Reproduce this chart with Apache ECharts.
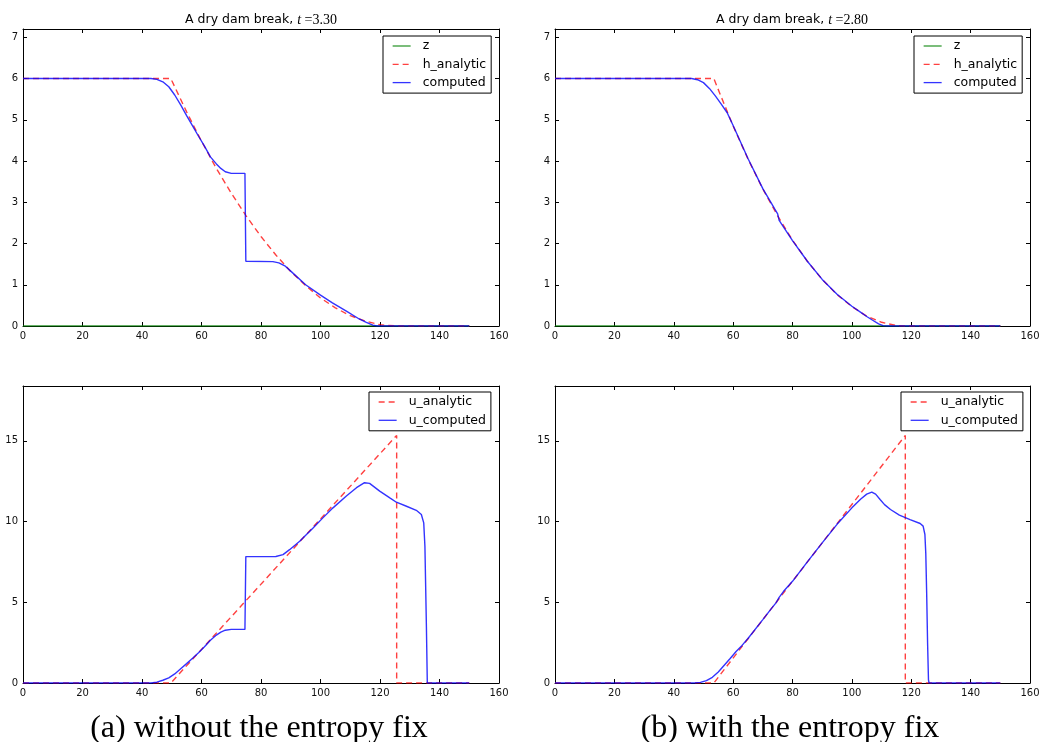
<!DOCTYPE html>
<html><head><meta charset="utf-8">
<script src="https://cdn.jsdelivr.net/npm/echarts@6/dist/echarts.min.js"></script>
<style>html,body{margin:0;padding:0;background:#fff}#c{width:1042px;height:742px}</style>
</head><body><div id="c"></div>
<script>
// ---- tick labels ----
const xTickValues = [0, 20, 40, 60, 80, 100, 120, 140, 160];
const hTickValues = [0, 1, 2, 3, 4, 5, 6, 7];
const uTickValues = [0, 5, 10, 15];
const timesLabel = ['3.30', '2.80'];
const captions = ['(a) without the entropy fix', '(b) with the entropy fix'];
const hLegendNames = ['z', 'h_analytic', 'computed'];
const uLegendNames = ['u_analytic', 'u_computed'];

// ---- (a) without entropy fix, t = 3.30 ----
const zA = [[0, 0], [150, 0]];
const hAnalyticA = [[0, 6], [49.7, 6], [50, 5.95], [55, 5.19], [60, 4.48], [65, 3.82], [70, 3.22], [75, 2.67], [80, 2.17], [85, 1.72], [90, 1.32], [95, 0.98], [100, 0.68], [105, 0.44], [110, 0.25], [115, 0.12], [120, 0.03], [125.6, 0], [150, 0]];
const hComputedA = [[0, 6], [43, 6], [45, 5.98], [47, 5.92], [49, 5.8], [51, 5.6], [53, 5.36], [55, 5.1], [57, 4.85], [59, 4.6], [61, 4.36], [63, 4.1], [65, 3.93], [66.5, 3.82], [68, 3.74], [70, 3.7], [74.6, 3.7], [74.9, 1.57], [84, 1.56], [86, 1.53], [88, 1.46], [90, 1.33], [95, 1.0], [100, 0.75], [104, 0.56], [108.7, 0.36], [113, 0.17], [115.4, 0.09], [117.6, 0.02], [119, 0], [150, 0]];
const uAnalyticA = [[0, 0], [49.7, 0], [125.6, 15.34], [125.6, 0], [150, 0]];
const uComputedA = [[0, 0], [43, 0], [45, 0.05], [47, 0.17], [49, 0.32], [51, 0.56], [53, 0.88], [55, 1.2], [57, 1.53], [59, 1.87], [61, 2.25], [63, 2.65], [65, 2.97], [66.5, 3.15], [68, 3.27], [70, 3.32], [74.6, 3.32], [74.9, 7.83], [85, 7.84], [87.4, 7.95], [89.6, 8.26], [93, 8.78], [97.5, 9.6], [100.8, 10.23], [104.2, 10.85], [108.7, 11.58], [112.1, 12.1], [114.8, 12.41], [116.5, 12.37], [119.9, 11.89], [123.3, 11.47], [125.5, 11.2], [128.9, 10.95], [132.2, 10.7], [133.9, 10.44], [134.7, 9.92], [135.1, 8.46], [135.6, 3.49], [135.9, 0], [150, 0]];

// ---- (b) with entropy fix, t = 2.80 ----
const zB = [[0, 0], [150, 0]];
const hAnalyticB = [[0, 6], [53.5, 6], [55, 5.73], [60, 4.85], [65, 4.05], [70, 3.32], [75, 2.67], [80, 2.08], [85, 1.57], [90, 1.13], [95, 0.76], [100, 0.47], [105, 0.24], [110, 0.09], [115, 0.01], [118, 0], [150, 0]];
const hComputedB = [[0, 6], [46, 6], [48, 5.97], [50, 5.9], [52, 5.76], [54, 5.58], [56, 5.38], [58, 5.17], [60, 4.86], [65, 4.06], [70, 3.33], [74, 2.84], [75, 2.72], [75.5, 2.56], [76.5, 2.45], [80, 2.07], [85, 1.57], [90, 1.13], [95, 0.77], [100, 0.48], [103, 0.33], [105, 0.23], [107, 0.14], [109, 0.05], [110.5, 0.01], [112, 0], [150, 0]];
const uAnalyticB = [[0, 0], [53.5, 0], [118, 15.34], [118, 0], [150, 0]];
const uComputedB = [[0, 0], [47, 0], [49, 0.04], [51, 0.15], [53, 0.35], [55, 0.68], [57, 1.1], [59, 1.52], [61, 1.95], [63, 2.33], [65, 2.76], [70, 3.93], [73, 4.64], [74.5, 4.98], [75.5, 5.3], [77, 5.68], [80, 6.3], [85, 7.5], [90, 8.68], [95, 9.83], [100, 10.85], [103, 11.4], [105, 11.7], [106.7, 11.83], [108, 11.7], [109.5, 11.37], [111, 11.05], [113, 10.75], [116, 10.4], [119.6, 10.12], [123, 9.88], [124, 9.72], [124.6, 9.2], [124.9, 8.0], [125.2, 5.5], [125.5, 2.5], [125.8, 0.2], [126, 0], [150, 0]];

// ---- layout ----
const grids = [
  {left: 23, top: 29, width: 476, height: 297},
  {left: 555, top: 29, width: 475, height: 297},
  {left: 23, top: 386, width: 476, height: 297},
  {left: 555, top: 386, width: 475, height: 297}
];
const SANS = 'DejaVu Sans';
const SERIF = 'Liberation Serif';
const lineCol = '#000';

const xAxes = [], yAxes = [];
function addAxes(gi, yMax, yTicks) {
  const tick = {show: true, inside: true, length: 4, lineStyle: {color: lineCol, width: 1}};
  const line = {show: true, onZero: false, lineStyle: {color: lineCol, width: 1}};
  const lab = {fontFamily: SANS, fontSize: 10, color: '#111', margin: 5};
  xAxes.push({type: 'value', gridIndex: gi, position: 'bottom', min: 0, max: 160,
    axisLine: line, axisTick: Object.assign({customValues: xTickValues}, tick),
    axisLabel: Object.assign({customValues: xTickValues}, lab), splitLine: {show: false}});
  xAxes.push({type: 'value', gridIndex: gi, position: 'top', min: 0, max: 160,
    axisLine: line, axisTick: Object.assign({customValues: xTickValues}, tick),
    axisLabel: {show: false}, splitLine: {show: false}});
  yAxes.push({type: 'value', gridIndex: gi, position: 'left', min: 0, max: yMax,
    axisLine: line, axisTick: Object.assign({customValues: yTicks}, tick),
    axisLabel: Object.assign({customValues: yTicks}, lab), splitLine: {show: false}});
  yAxes.push({type: 'value', gridIndex: gi, position: 'right', min: 0, max: yMax,
    axisLine: line, axisTick: Object.assign({customValues: yTicks}, tick),
    axisLabel: {show: false}, splitLine: {show: false}});
}
addAxes(0, 7.2, hTickValues);
addAxes(1, 7.2, hTickValues);
addAxes(2, 18.4, uTickValues);
addAxes(3, 18.4, uTickValues);

const GREEN = '#008000', RED = '#ff0000', BLUE = '#0000ff';
function ser(name, gi, data, color, dashed) {
  return {
    type: 'line', name: name, data: data, xAxisIndex: gi * 2, yAxisIndex: gi * 2,
    symbol: 'none', showSymbol: false, clip: true, animation: false,
    itemStyle: {color: color},
    lineStyle: {color: color, width: 1.4, type: dashed ? [6, 4] : 'solid', opacity: dashed ? 0.75 : 0.8}
  };
}
const series = [
  ser('z', 0, zA, GREEN, false),
  ser('h_analytic', 0, hAnalyticA, RED, true),
  ser('computed', 0, hComputedA, BLUE, false),
  ser('z', 1, zB, GREEN, false),
  ser('h_analytic', 1, hAnalyticB, RED, true),
  ser('computed', 1, hComputedB, BLUE, false),
  ser('u_analytic', 2, uAnalyticA, RED, true),
  ser('u_computed', 2, uComputedA, BLUE, false),
  ser('u_analytic', 3, uAnalyticB, RED, true),
  ser('u_computed', 3, uComputedB, BLUE, false)
];

function legend(left, top, names) {
  return {
    orient: 'vertical', left: left, top: top, data: names, selectedMode: false,
    itemWidth: 18, itemHeight: 14, itemGap: 5.3, padding: [3.5, 5, 4, 9],
    borderColor: '#000', borderWidth: 1, borderRadius: 0, backgroundColor: '#fff',
    itemStyle: {color: 'rgba(0,0,0,0)', borderWidth: 0, borderColor: 'rgba(0,0,0,0)', opacity: 0},
    lineStyle: {width: 1.3},
    textStyle: {fontFamily: SANS, fontSize: 12.5, color: '#000', padding: [0, 0, 0, 7]}
  };
}

function titleText(x, tval) {
  return {
    type: 'text', x: x, y: 20, z: 100,
    style: {
      text: '{a|A dry dam break, }{t|t }{b|=' + tval + '}',
      rich: {
        a: {fontFamily: SANS, fontSize: 12.5, fill: '#000'},
        t: {fontFamily: SERIF, fontStyle: 'italic', fontSize: 14, fill: '#000'},
        b: {fontFamily: SERIF, fontSize: 14, fill: '#000'}
      },
      align: 'center', verticalAlign: 'middle', textAlign: 'center', textVerticalAlign: 'middle', fill: '#000'
    }
  };
}
function captionText(x, txt) {
  return {
    type: 'text', x: x, y: 729, z: 100,
    style: {text: txt, fontFamily: SERIF, fontSize: 32, fill: '#000',
      font: '32px "Liberation Serif"',
      align: 'center', verticalAlign: 'middle', textAlign: 'center', textVerticalAlign: 'middle'}
  };
}

const chart = echarts.init(document.getElementById('c'), null, {renderer: 'canvas'});
chart.setOption({
  backgroundColor: '#fff',
  animation: false,
  grid: grids.map(g => Object.assign({containLabel: false, outerBoundsMode: 'none', show: false}, g)),
  xAxis: xAxes,
  yAxis: yAxes,
  legend: [
    legend(383, 36, hLegendNames),
    legend(914, 36, hLegendNames),
    legend(369, 392, uLegendNames),
    legend(901, 392, uLegendNames)
  ],
  graphic: [
    titleText(261, timesLabel[0]),
    titleText(792, timesLabel[1]),
    captionText(259, captions[0]),
    captionText(790, captions[1])
  ],
  series: series
});
</script></body></html>
